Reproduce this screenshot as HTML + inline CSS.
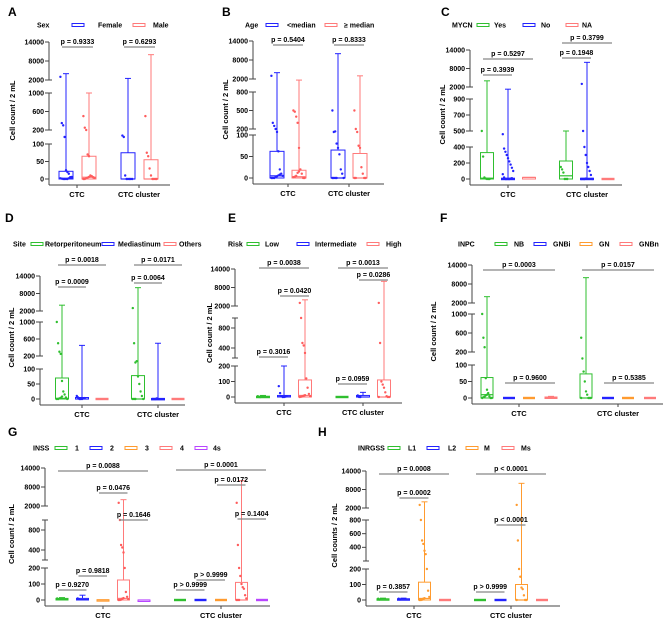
<!DOCTYPE html>
<html><head><meta charset="utf-8">
<style>
html,body{margin:0;padding:0;background:#fff;}
svg{display:block;font-family:"Liberation Sans",Arial,sans-serif;}
</style></head>
<body>
<svg id="fig" width="669" height="622" viewBox="0 0 669 622" xmlns="http://www.w3.org/2000/svg"></svg>
<script>
// ---------- DATA (series x category) ----------
const cats2 = ["CTC","CTC cluster"];
// Panel A: Sex
const A_series = ["Female","Male"];
const A_med = [[2,0],[5,0]];
const A_q3  = [[22,75],[65,55]];
const A_max = [[4000,2500],[1000,10000]];
const A_dots = [[[3000,350,300,150,25,20,15,5,3,2,1,0,0,0,0,2,4,6],[160,150,10,0,0,0,0,0]],[[500,250,200,70,65,10,8,5,3,0,0,2,4,6,8],[500,75,65,30,10,0,0,0,0]]];
const A_p = ["p = 0.9333","p = 0.6293"];
// Panel B: Age
const B_series = ["<median","\u2265 median"];
const B_med = [[5,0],[3,0]];
const B_q3  = [[62,65],[18,57]];
const B_max = [[4000,10000],[1900,3000]];
const B_dots = [[[3000,300,250,200,150,62,20,10,5,0,0,0,2,4,6,8],[500,150,160,80,70,55,20,10,0,0,0,0,0]],[[500,480,400,300,70,20,10,0,0,2,3,5,12,15],[500,200,150,75,70,25,10,0,0,0,0]]];
const B_p = ["p = 0.5404","p = 0.8333"];
// Panel C: MYCN
const C_series = ["Yes","No","NA"];
const C_med = [[10,40],[0,0],[20,0]];
const C_q3  = [[330,225],[10,10],[20,0]];
const C_max = [[4000,500],[1800,10000],[20,0]];
const C_dots = [[[500,280,20,5,0,0,0],[150,120,80,0,0,0]],[[480,380,340,300,260,220,180,140,100,60,20,0,0,0,0,5,10],[3000,500,400,300,200,150,100,50,0,0,0,0,5]],[[],[]]];
const C_p = ["p = 0.3939","p = 0.5297","p = 0.1948","p = 0.3799"];
// Panel D: Site
const D_series = ["Retorperitoneum","Mediastinum","Others"];
const D_med = [[2,0],[0,0],[0,0]];
const D_q3  = [[70,78],[5,2],[0,0]];
const D_max = [[4000,10000],[450,500],[0,0]];
const D_dots = [[[1000,500,300,250,60,25,15,5,0,0,0,2,4,8],[3000,500,150,160,75,50,25,10,0,0,0,0]],[[10,5,0,0,0,2,3],[0,0,0,2]],[[],[]]];
const D_p = ["p = 0.0009","p = 0.0018","p = 0.0064","p = 0.0171"];
// Panel E: Risk
const E_series = ["Low","Intermediate","High"];
const E_med = [[0,0],[2,0],[10,0]];
const E_q3  = [[5,0],[10,10],[110,110]];
const E_max = [[10,0],[200,30],[4000,10000]];
const E_dots = [[[5,0,0,2],[]],[[70,25,5,0,0,2,4],[10,0,0]],[[3000,1000,500,450,300,120,60,20,5,0,2,4,8,12],[3000,500,100,80,60,30,5,0,0,0]]];
const E_p = ["p = 0.3016","p = 0.0038","p = 0.0420","p = 0.0959","p = 0.0013","p = 0.0286"];
// Panel F: INPC
const F_series = ["NB","GNBi","GN","GNBn"];
const F_med = [[10,0],[0,0],[0,0],[0,0]];
const F_q3  = [[62,73],[0,0],[0,0],[3,0]];
const F_max = [[4000,10000],[0,0],[0,0],[5,0]];
const F_dots = [[[1000,500,300,60,25,15,5,0,0,0,2,4,8,10,12],[500,150,80,50,20,10,0,0,0,0]],[[],[]],[[],[]],[[],[]]];
const F_p = ["p = 0.0003","p = 0.9600","p = 0.0157","p = 0.5385"];
// Panel G: INSS
const G_series = ["1","2","3","4","4s"];
const G_med = [[5,0],[3,0],[0,0],[10,0],[0,0]];
const G_q3  = [[10,0],[10,0],[2,0],[125,110],[0,0]];
const G_max = [[15,0],[30,0],[3,0],[4000,10000],[2,0]];
const G_dots = [[[10,5],[]],[[10,5],[]],[[],[]],[[3000,1000,500,450,350,200,50,20,5,0,0,2,8,12],[3000,500,200,150,100,80,70,30,10,0,0,0]],[[],[]]];
const G_p = ["p = 0.9270","p = 0.9818","p = 0.0476","p = 0.1646","p = 0.0088","p > 0.9999","p > 0.9999","p = 0.0172","p = 0.1404","p = 0.0001"];
// Panel H: INRGSS
const H_series = ["L1","L2","M","Ms"];
const H_med = [[2,0],[2,0],[10,0],[0,0]];
const H_q3  = [[8,0],[8,0],[115,100],[0,0]];
const H_max = [[12,0],[12,0],[4000,10000],[0,0]];
const H_dots = [[[8,3],[]],[[8,3],[]],[[3000,800,500,450,350,300,200,60,20,0,0,2,8,12],[3000,500,200,150,80,70,30,0,0,0]],[[],[]]];
const H_p = ["p = 0.3857","p = 0.0002","p = 0.0008","p > 0.9999","p < 0.0001","p < 0.0001"];

// ---------- LAYOUT ----------
const GR="#2fbf2f", BL="#2323ff", RD="#ff5c5c", OR="#ff9b2f", PU="#b845ff";
const S1=[[0,100],[200,1000],[2000,14000]];
const panels = [
 {L:"A",lx:8,ly:16,title:"Sex",leg:[37,25,[[72,98],[133,153]]],ax:49,
  seg:S1,ys:[[179,144],[130,93],[80,42]],ticks:[[0,50,100],[200,600,1000],[2000,8000,14000]],
  xr:170,cx:[77,139],off:[-11,12],bw:14,col:[BL,RD],ser:A_series,med:A_med,q3:A_q3,max:A_max,dots:A_dots,
  pl:[[0,0,0,1,47],[1,0,1,1,47]],pv:A_p,ylab:"Cell count / 2 mL",yl:15},
 {L:"B",lx:222,ly:16,title:"Age",leg:[245,25,[[266,287],[325,344]]],ax:253,
  seg:[[0,100],[200,800],[2000,14000]],ys:[[178,135],[129,92],[79,41]],ticks:[[0,50,100],[200,500,800],[2000,8000,14000]],
  xr:384,cx:[288,349],off:[-11,11],bw:14,col:[BL,RD],ser:B_series,med:B_med,q3:B_q3,max:B_max,dots:B_dots,
  pl:[[0,0,0,1,45],[1,0,1,1,45]],pv:B_p,ylab:"Cell count / 2 mL",yl:228},
 {L:"C",lx:441,ly:16,title:"MYCN",leg:[452,25,[[477,494],[523,541],[566,582]]],ax:470,
  seg:[[0,400],[500,900],[2000,14000]],ys:[[179,147],[131,99],[87,50]],ticks:[[0,200,400],[500,700,900],[2000,8000,14000]],
  xr:622,cx:[508,587],off:[-21,0,21],bw:13,col:[GR,BL,RD],ser:C_series,med:C_med,q3:C_q3,max:C_max,dots:C_dots,
  pl:[[0,0,0,1,75],[0,0,0,2,59],[1,0,1,1,58],[1,0,1,2,43]],pv:C_p,ylab:"Cell count / 2 mL",yl:445},
 {L:"D",lx:5,ly:222,title:"Site",leg:[13,244,[[31,45],[102,118],[164,179]]],ax:40,
  seg:S1,ys:[[399,369],[356,322],[311,276]],ticks:[[0,50,100],[200,600,1000],[2000,8000,14000]],
  xr:185,cx:[82,158],off:[-20,0,20],bw:13,col:[GR,BL,RD],ser:D_series,med:D_med,q3:D_q3,max:D_max,dots:D_dots,
  pl:[[0,0,0,1,287],[0,0,0,2,265],[1,0,1,1,283],[1,0,1,2,265]],pv:D_p,ylab:"Cell count / 2 mL",yl:14},
 {L:"E",lx:228,ly:222,title:"Risk",leg:[228,244,[[247,265],[297,315],[367,386]]],ax:235,
  seg:[[0,200],[200,1000],[2000,14000]],ys:[[397,366],[358,318],[306,269]],ticks:[[0,100,200],[400,800],[2000,8000,14000]],
  xr:402,cx:[284,363],off:[-21,0,21],bw:13,col:[GR,BL,RD],ser:E_series,med:E_med,q3:E_q3,max:E_max,dots:E_dots,
  pl:[[0,0,0,1,357],[0,0,0,2,268],[0,1,0,2,296],[1,0,1,1,384],[1,0,1,2,268],[1,1,1,2,280]],pv:E_p,ylab:"Cell count / 2 mL",yl:212},
 {L:"F",lx:440,ly:222,title:"INPC",leg:[458,244,[[495,514],[534,553],[580,599],[620,639]]],ax:472,
  seg:S1,ys:[[398,365],[352,314],[303,265]],ticks:[[0,50,100],[200,600,1000],[2000,8000,14000]],
  xr:663,cx:[519,618],off:[-32,-10,10,32],bw:12,col:[GR,BL,OR,RD],ser:F_series,med:F_med,q3:F_q3,max:F_max,dots:F_dots,
  pl:[[0,0,0,3,270],[0,1,0,3,383],[1,0,1,3,270],[1,1,1,3,383]],pv:F_p,ylab:"Cell count / 2 mL",yl:436},
 {L:"G",lx:8,ly:436,title:"INSS",leg:[33,448,[[55,75],[90,110],[125,145],[160,180],[195,213]]],ax:45,
  seg:[[0,200],[200,1000],[2000,14000]],ys:[[600,568],[560,520],[506,468]],ticks:[[0,100,200],[400,800],[2000,8000,14000]],
  xr:270,cx:[103,221],off:[-41,-20.5,0,20.5,41],bw:12,col:[GR,BL,OR,RD,PU],ser:G_series,med:G_med,q3:G_q3,max:G_max,dots:G_dots,
  pl:[[0,0,0,1,590],[0,1,0,2,576],[0,2,0,3,493],[0,3,0,4,520],[0,0,0,4,471],[1,0,1,1,590],[1,1,1,2,580],[1,2,1,3,485],[1,3,1,4,519],[1,0,1,4,470]],pv:G_p,ylab:"Cell count / 2 mL",yl:14},
 {L:"H",lx:318,ly:436,title:"INRGSS",leg:[358,448,[[388,408],[427,448],[466,484],[502,521]]],ax:366,
  seg:[[0,200],[200,800],[2000,14000]],ys:[[600,569],[561,520],[508,471]],ticks:[[0,100,200],[400,600,800],[2000,8000,14000]],
  xr:560,cx:[414,511],off:[-31,-10.5,10.5,31],bw:12,col:[GR,BL,OR,RD],ser:H_series,med:H_med,q3:H_q3,max:H_max,dots:H_dots,
  pl:[[0,0,0,1,592],[0,1,0,2,498],[0,0,0,3,474],[1,0,1,1,592],[1,1,1,2,525],[1,0,1,3,474]],pv:H_p,ylab:"Cell counts / 2 mL",yl:337}
];

const NS="http://www.w3.org/2000/svg";
const svg=document.getElementById("fig");
function mk(tag,attrs,parent,text){const e=document.createElementNS(NS,tag);for(const k in attrs)e.setAttribute(k,attrs[k]);if(text!==undefined)e.textContent=text;(parent||svg).appendChild(e);return e;}
function light(c){return c===RD?"#ff7a7a":c;}

panels.forEach(P=>{
  const g=mk("g",{});
  
  
  function Y(v){
    const s=P.seg,y=P.ys;
    for(let i=0;i<s.length;i++){
      if(v<=s[i][1]){
        if(v>=s[i][0]) return y[i][0]+(v-s[i][0])/(s[i][1]-s[i][0])*(y[i][1]-y[i][0]);
        return y[i-1][1]+(v-s[i-1][1])/(s[i][0]-s[i-1][1])*(y[i][0]-y[i-1][1]);
      }
    }
    return y[s.length-1][1];
  }
  const lt=mk("text",{x:P.lx,y:P.ly,"font-size":12,"font-weight":"bold",fill:"#000"},g,P.L);
  
  
  const lg=mk("g",{},g);
  
  
  mk("text",{x:P.leg[0],y:P.leg[1]+2.5,"font-size":7,"font-weight":"bold"},lg,P.title);
  P.leg[2].forEach((it,i)=>{
    const e=mk("g",{},lg);
    
    
    mk("rect",{x:it[0],y:P.leg[1]-1.5,width:12,height:3,fill:"none",stroke:light(P.col[i]),"stroke-width":1},e);
    mk("text",{x:it[1],y:P.leg[1]+2.5,"font-size":7,"font-weight":"bold"},e,P.ser[i]);
  });
  const ya=mk("g",{stroke:"#444","stroke-width":1,fill:"none"},g);
  
  
  P.ys.forEach((yy,i)=>{
    mk("line",{x1:P.ax,y1:yy[0]+(i===0?6:0),x2:P.ax,y2:yy[1]},ya);
    if(i>0) mk("line",{x1:P.ax-3,y1:yy[0],x2:P.ax+3,y2:yy[0]},ya);
    if(i<P.ys.length-1) mk("line",{x1:P.ax-3,y1:yy[1],x2:P.ax+3,y2:yy[1]},ya);
    P.ticks[i].forEach(t=>{
      const ty=Y(t);
      mk("line",{x1:P.ax-4,y1:ty,x2:P.ax,y2:ty},ya);
      const tl=mk("text",{x:P.ax-5,y:ty+2.4,"font-size":7,"font-weight":"bold","text-anchor":"end",stroke:"none",fill:"#000"},ya,String(t));
      
      
    });
  });
  const yt=mk("text",{x:0,y:0,"font-size":7.5,"font-weight":"bold","text-anchor":"middle",transform:`translate(${P.yl},${(P.ys[0][0]+P.ys[2][1])/2}) rotate(-90)`},g,P.ylab);
  
  
  const xa=mk("g",{stroke:"#444","stroke-width":1},g);
  
  
  const xy=P.ys[0][0]+6;
  mk("line",{x1:P.ax,y1:xy,x2:P.xr,y2:xy},xa);
  cats2.forEach((c,ci)=>{
    mk("line",{x1:P.cx[ci],y1:xy,x2:P.cx[ci],y2:xy+3},xa);
    const xl=mk("text",{x:P.cx[ci],y:xy+12,"font-size":7.5,"font-weight":"bold","text-anchor":"middle",stroke:"none",fill:"#000"},xa,c);
    
    
  });
  P.ser.forEach((s,si)=>{
    const col=light(P.col[si]);
    cats2.forEach((c,ci)=>{
      const x=P.cx[ci]+P.off[si], w=P.bw;
      const bg=mk("g",{stroke:col,fill:"none","stroke-width":1},g);
      
      
      const q1=Y(0),q3=Y(P.q3[si][ci]),md=Y(P.med[si][ci]),mx=Y(P.max[si][ci]);
      if(P.q3[si][ci]<=0 && P.max[si][ci]<=0){
        mk("rect",{x:x-w/2,y:q1-1.2,width:w,height:2.4,fill:col,stroke:"none"},bg);
      } else {
        mk("rect",{x:x-w/2,y:q3,width:w,height:Math.max(q1-q3,1.5)},bg);
        mk("line",{x1:x-w/2,y1:md,x2:x+w/2,y2:md,"stroke-width":1.2},bg);
        if(mx<q3-0.5){
          mk("line",{x1:x,y1:q3,x2:x,y2:mx},bg);
          mk("line",{x1:x-3,y1:mx,x2:x+3,y2:mx},bg);
        }
      }
      (P.dots[si][ci]||[]).forEach((v,k)=>{
        const jx=x+((k*37)%9-4)*0.9*w/9;
        mk("circle",{cx:jx,cy:Y(v),r:1.2,fill:P.col[si],stroke:"none"},bg);
      });
    });
  });
  P.pl.forEach((p,i)=>{
    const x1=P.cx[p[0]]+P.off[p[1]]-4, x2=P.cx[p[2]]+P.off[p[3]]+4, y=p[4];
    const pg=mk("g",{},g);
    
    
    mk("line",{x1:x1,y1:y,x2:x2,y2:y,stroke:"#888","stroke-width":1.2},pg);
    mk("text",{x:(x1+x2)/2,y:y-3,"font-size":7,"font-weight":"bold","text-anchor":"middle"},pg,P.pv[i]);
  });
});
</script>
</body></html>
